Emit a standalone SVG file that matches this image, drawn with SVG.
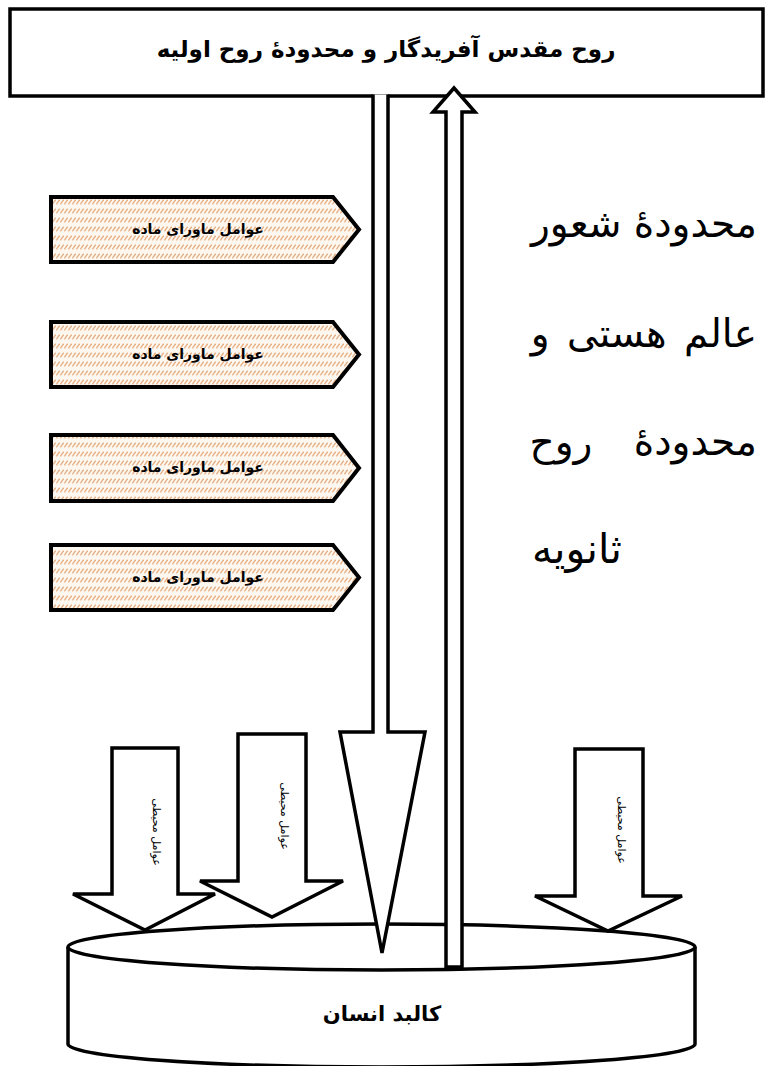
<svg xmlns="http://www.w3.org/2000/svg" width="771" height="1066" viewBox="0 0 771 1066">
<style>
.ln{stroke:#000;stroke-width:3.5;fill:#fff;stroke-linejoin:miter}
.ar{font-family:"DejaVu Sans","Noto Sans",sans-serif;fill:#000}
.b{font-weight:bold}
.pent{stroke:#000;stroke-width:4;fill:url(#hatch)}
</style>
<defs>
<pattern id="hatch" patternUnits="userSpaceOnUse" width="4" height="9">
<rect width="4" height="9" fill="#fdf7f0"/>
<line x1="0.4" y1="6.3" x2="3.6" y2="1.7" stroke="#e6b084" stroke-width="1.2"/>
</pattern>
</defs>
<rect width="771" height="1066" fill="#fff"/>

<g id="cylinder">
<path class="ln" d="M68,947 L68,1044 A313.5,23 0 0 0 695,1044 L695,947"/>
<ellipse class="ln" cx="381.5" cy="947" rx="313.5" ry="23"/>
<text class="ar b" x="382" y="1021" font-size="21" text-anchor="middle">کالبد انسان</text>
</g>

<g id="top-box">
<rect class="ln" x="10" y="9" width="753" height="87" stroke-width="3"/>
<text class="ar b" x="386" y="57" font-size="23" text-anchor="middle">روح مقدس آفریدگار و محدودۀ روح اولیه</text>
</g>

<g id="connectors">
<path class="ln" d="M373,94.5 L373,732 L340,732 L382,953 L425,732 L388,732 L388,94.5"/>
<path class="ln" d="M446,967 L446,112 L433,112 L454,88 L475,112 L462,112 L462,967 Z"/>
</g>

<g id="env1">
<path class="ln" d="M112,748 L112,894 L73,894 L145,930 L215,894 L178,894 L178,748 Z"/>
<text class="ar" font-size="11" text-anchor="middle" transform="translate(153,832) rotate(90)">عوامل محیطی</text>
</g>
<g id="env2">
<path class="ln" d="M238,734 L238,881 L200,881 L272,917 L343,881 L306,881 L306,734 Z"/>
<text class="ar" font-size="11" text-anchor="middle" transform="translate(281,816) rotate(90)">عوامل محیطی</text>
</g>
<g id="env3">
<path class="ln" d="M575,749 L575,896 L535,896 L608,931 L682,896 L643,896 L643,749 Z"/>
<text class="ar" font-size="11" text-anchor="middle" transform="translate(618,830) rotate(90)">عوامل محیطی</text>
</g>

<g id="meta1">
<path class="pent" d="M51,197 L333,197 L359,229.5 L333,262 L51,262 Z"/>
<text class="ar b" x="198" y="234" font-size="14" text-anchor="middle">عوامل ماورای ماده</text>
</g>
<g id="meta2">
<path class="pent" d="M51,322 L333,322 L359,354.5 L333,387 L51,387 Z"/>
<text class="ar b" x="198" y="359" font-size="14" text-anchor="middle">عوامل ماورای ماده</text>
</g>
<g id="meta3">
<path class="pent" d="M51,435 L333,435 L359,468 L333,501 L51,501 Z"/>
<text class="ar b" x="198" y="472" font-size="14" text-anchor="middle">عوامل ماورای ماده</text>
</g>
<g id="meta4">
<path class="pent" d="M51,545 L333,545 L359,577.5 L333,610 L51,610 Z"/>
<text class="ar b" x="198" y="582" font-size="14" text-anchor="middle">عوامل ماورای ماده</text>
</g>

<g id="side-text" class="ar" font-size="39">
<text x="757" y="237" text-anchor="end">محدودۀ شعور</text>
<text x="757" y="347" text-anchor="end" word-spacing="5">عالم هستی و</text>
<text x="757" y="455" text-anchor="end" word-spacing="29">محدودۀ روح</text>
<text x="577" y="563" text-anchor="middle" font-size="41">ثانویه</text>
</g>
</svg>
